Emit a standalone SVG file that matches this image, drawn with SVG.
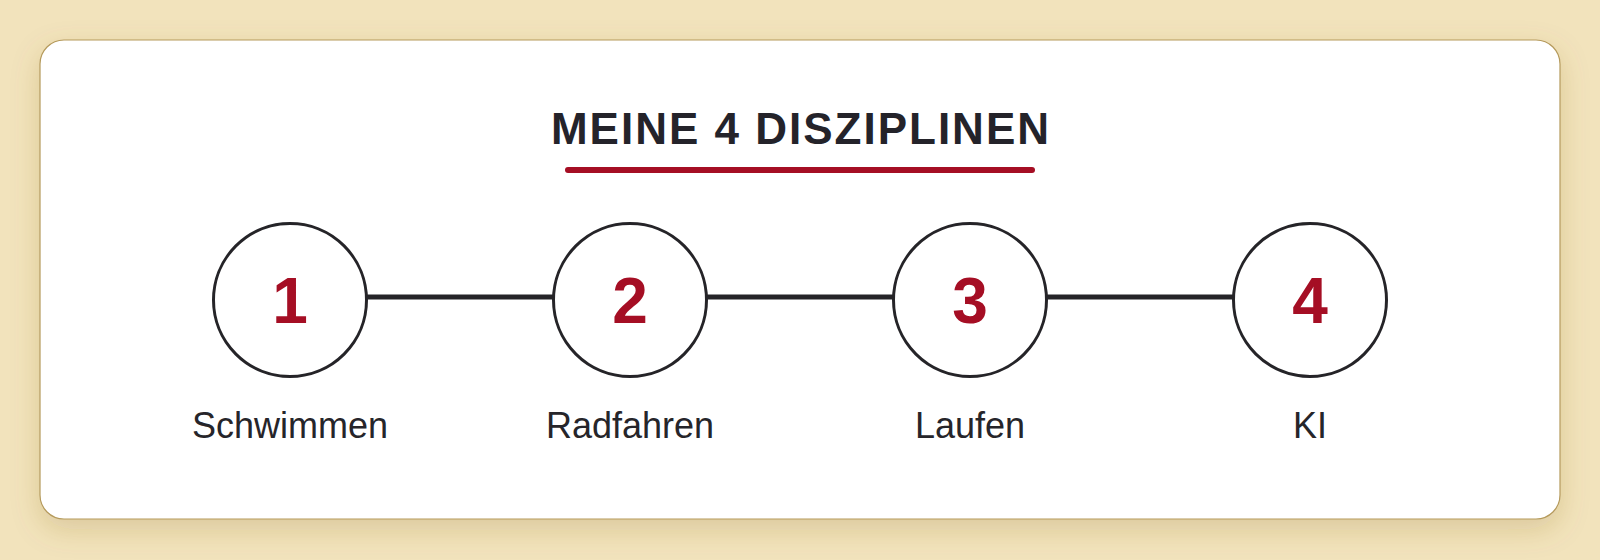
<svg xmlns="http://www.w3.org/2000/svg" width="1600" height="560" viewBox="0 0 1600 560">
  <defs>
    <filter id="shadow" x="-10%" y="-20%" width="120%" height="150%">
      <feDropShadow dx="0" dy="10" stdDeviation="14" flood-color="#8a6a2a" flood-opacity="0.22"/>
    </filter>
    <style>
      .node-circle { fill: #ffffff; stroke: #252428; stroke-width: 3; }
      .num { font-family: "Liberation Sans", Arial, sans-serif; font-weight: bold; font-size: 64px; fill: #a50e24; text-anchor: middle; }
      .label { font-family: "Liberation Sans", Arial, sans-serif; font-size: 36px; fill: #26252a; text-anchor: middle; }
      .connector { stroke: #252428; stroke-width: 5; }
    </style>
  </defs>
  <rect x="0" y="0" width="1600" height="560" fill="#f2e3bc"/>
  <rect x="40" y="40" width="1520" height="479" rx="24" ry="24" fill="#ffffff" stroke="#b59a5b" stroke-width="1.2" filter="url(#shadow)"/>
  <g id="title">
    <text x="801" y="143.5" font-family="Liberation Sans, Arial, sans-serif" font-weight="bold" font-size="44" letter-spacing="2" fill="#24232a" text-anchor="middle">MEINE 4 DISZIPLINEN</text>
    <line x1="568" y1="170" x2="1032" y2="170" stroke="#a50e24" stroke-width="6" stroke-linecap="round"/>
  </g>
  <g id="connectors">
    <line class="connector" x1="366" y1="297" x2="554" y2="297"/>
    <line class="connector" x1="706" y1="297" x2="894" y2="297"/>
    <line class="connector" x1="1046" y1="297" x2="1234" y2="297"/>
  </g>
  <g id="node1">
    <circle class="node-circle" cx="290" cy="300" r="76.5"/>
    <text class="num" x="290" y="322.5">1</text>
    <text class="label" x="290" y="438">Schwimmen</text>
  </g>
  <g id="node2">
    <circle class="node-circle" cx="630" cy="300" r="76.5"/>
    <text class="num" x="630" y="322.5">2</text>
    <text class="label" x="630" y="438">Radfahren</text>
  </g>
  <g id="node3">
    <circle class="node-circle" cx="970" cy="300" r="76.5"/>
    <text class="num" x="970" y="322.5">3</text>
    <text class="label" x="970" y="438">Laufen</text>
  </g>
  <g id="node4">
    <circle class="node-circle" cx="1310" cy="300" r="76.5"/>
    <text class="num" x="1310" y="322.5">4</text>
    <text class="label" x="1310" y="438">KI</text>
  </g>
</svg>
